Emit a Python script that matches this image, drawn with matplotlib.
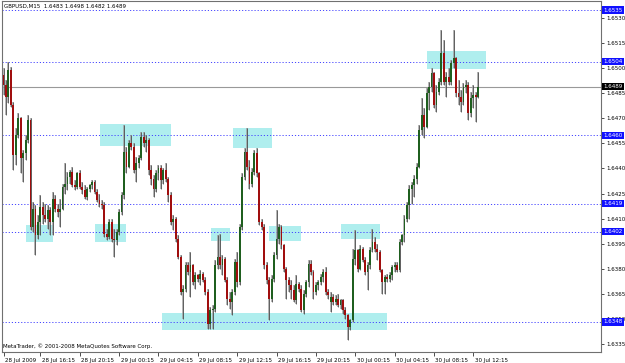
import numpy as np
import matplotlib
matplotlib.use('Agg')
import matplotlib.pyplot as plt
import matplotlib.transforms as mtransforms
from matplotlib.patches import Rectangle

# GBPUSD M15 bars, prices written as pips above 1.6300
opens = [196, 190, 183, 199, 178, 148, 160, 170, 146, 149, 157, 169, 105, 116, 100, 108, 117, 112, 110, 115,
         108, 122, 116, 114, 116, 129, 131, 135, 138, 130, 129, 137, 129, 127, 123, 128, 130, 132, 126, 121,
         119, 118, 101, 99, 108, 98, 97, 102, 114, 124, 150, 141, 155, 153, 139, 143, 146, 159, 155, 157,
         139, 134, 128, 137, 140, 133, 139, 134, 124, 108, 110, 98, 87, 66, 68, 82, 78, 82, 72, 76,
         74, 77, 73, 66, 47, 55, 56, 82, 87, 82, 86, 73, 62, 60, 66, 84, 72, 105, 135, 150,
         141, 131, 138, 149, 137, 108, 105, 82, 73, 62, 74, 88, 98, 105, 94, 80, 73, 70, 67, 61,
         71, 68, 55, 65, 72, 83, 78, 66, 70, 72, 75, 78, 66, 60, 63, 60, 62, 58, 61, 55,
         52, 45, 49, 86, 91, 80, 92, 85, 78, 82, 91, 96, 92, 90, 79, 72, 75, 74, 76, 81,
         82, 79, 96, 100, 110, 118, 128, 130, 134, 141, 163, 172, 165, 185, 189, 197, 178, 186, 192, 209,
         192, 195, 192, 203, 206, 185, 183, 180, 189, 190, 173, 182, 184, 183]
highs = [200, 193, 204, 201, 180, 164, 173, 171, 151, 160, 172, 170, 120, 118, 112, 124, 120, 119, 118, 117,
         126, 124, 119, 122, 131, 143, 138, 139, 141, 133, 138, 139, 132, 130, 129, 131, 133, 133, 128, 125,
         121, 120, 104, 110, 110, 104, 104, 116, 126, 166, 153, 157, 160, 155, 147, 148, 162, 162, 160, 158,
         142, 136, 139, 142, 142, 140, 143, 135, 126, 112, 111, 100, 88, 70, 84, 84, 90, 83, 78, 77,
         79, 78, 75, 68, 57, 58, 85, 100, 101, 88, 87, 75, 66, 68, 86, 90, 107, 137, 152, 164,
         145, 140, 151, 152, 138, 110, 107, 84, 75, 76, 90, 115, 107, 106, 95, 81, 75, 73, 70, 76,
         72, 70, 67, 73, 85, 85, 79, 72, 73, 77, 80, 81, 68, 66, 65, 64, 65, 62, 62, 57,
         53, 50, 92, 103, 92, 94, 93, 87, 84, 93, 104, 99, 95, 91, 80, 76, 77, 78, 82, 84,
         84, 98, 101, 112, 120, 130, 132, 136, 143, 166, 182, 176, 188, 192, 200, 198, 190, 194, 223, 217,
         198, 200, 205, 223, 207, 193, 187, 191, 193, 192, 186, 190, 186, 198]
lows = [184, 172, 179, 177, 139, 142, 158, 137, 132, 145, 155, 103, 102, 88, 98, 100, 107, 108, 104, 100,
        100, 114, 111, 105, 115, 125, 127, 131, 129, 127, 128, 128, 125, 122, 121, 126, 128, 125, 120, 117,
        116, 99, 97, 98, 96, 87, 94, 100, 112, 122, 137, 140, 151, 137, 132, 140, 145, 153, 150, 136,
        130, 123, 126, 133, 128, 131, 132, 120, 106, 103, 96, 86, 64, 50, 66, 76, 63, 70, 68, 72,
        70, 72, 64, 44, 44, 44, 54, 80, 80, 76, 72, 58, 56, 52, 64, 69, 70, 103, 133, 139,
        128, 129, 136, 135, 106, 103, 80, 71, 49, 60, 72, 86, 95, 92, 78, 62, 66, 62, 60, 59,
        66, 54, 53, 63, 69, 76, 62, 64, 67, 70, 72, 64, 62, 54, 58, 58, 57, 56, 53, 50,
        37, 43, 48, 82, 78, 79, 84, 76, 67, 80, 90, 90, 85, 78, 65, 65, 72, 72, 73, 78,
        78, 78, 94, 96, 108, 110, 119, 123, 131, 140, 160, 158, 164, 175, 186, 176, 174, 184, 190, 190,
        183, 190, 190, 200, 183, 178, 174, 178, 185, 169, 171, 176, 168, 182]
closes = [190, 183, 199, 178, 148, 160, 170, 146, 149, 157, 169, 105, 116, 100, 108, 117, 112, 110, 115, 108,
          122, 116, 114, 116, 129, 131, 135, 138, 130, 129, 137, 129, 127, 123, 128, 130, 132, 126, 121, 119,
          118, 101, 99, 108, 98, 97, 102, 114, 124, 150, 141, 155, 153, 139, 143, 146, 159, 155, 157, 139,
          134, 128, 137, 140, 133, 139, 134, 124, 108, 110, 98, 87, 66, 68, 82, 78, 82, 72, 76, 74,
          77, 73, 66, 47, 55, 56, 82, 87, 82, 86, 73, 62, 60, 66, 84, 72, 105, 135, 150, 141,
          131, 138, 149, 137, 108, 105, 82, 73, 62, 74, 88, 98, 105, 94, 80, 73, 70, 67, 61, 71,
          68, 55, 65, 72, 83, 78, 66, 70, 72, 75, 78, 66, 64, 63, 60, 62, 58, 61, 55, 52,
          45, 49, 86, 91, 80, 92, 85, 78, 82, 91, 96, 92, 90, 79, 72, 75, 74, 76, 81, 82,
          79, 96, 100, 110, 118, 128, 130, 134, 141, 163, 172, 165, 185, 189, 197, 178, 186, 192, 209, 192,
          195, 192, 203, 206, 185, 183, 180, 189, 190, 173, 182, 184, 183, 189]

time_labels = ['28 Jul 2009', '28 Jul 16:15', '28 Jul 20:15', '29 Jul 00:15', '29 Jul 04:15',
               '29 Jul 08:15', '29 Jul 12:15', '29 Jul 16:15', '29 Jul 20:15', '30 Jul 00:15',
               '30 Jul 04:15', '30 Jul 08:15', '30 Jul 12:15']
time_label_bars = [0, 15, 31, 47, 63, 79, 95, 111, 127, 143, 159, 175, 191]

price_ticks = [1.6335, 1.6350, 1.6365, 1.6380, 1.6395, 1.6410, 1.6425, 1.6440,
               1.6455, 1.6470, 1.6485, 1.6500, 1.6515, 1.6530]
levels = [1.6535, 1.6504, 1.6460, 1.6419, 1.6402, 1.6348]
bid = 1.6489

# support / resistance rectangles: first bar, last bar, low, high
zones = [(9.1, 20.1, 1.63959, 1.64061),
         (37.2, 49.8, 1.63959, 1.64067),
         (39.2, 68.1, 1.64536, 1.64667),
         (93.3, 109.0, 1.64524, 1.64643),
         (84.2, 92.1, 1.63967, 1.64043),
         (107.9, 120.8, 1.63967, 1.64057),
         (137.2, 153.0, 1.63977, 1.64067),
         (64.3, 156.0, 1.63432, 1.63533),
         (172.0, 196.1, 1.64996, 1.65104)]

title = 'GBPUSD,M15  1.6483 1.6498 1.6482 1.6489'
footer = 'MetaTrader, \u00a9 2001-2008 MetaQuotes Software Corp.'

o = 1.63 + np.array(opens) / 10000
h = 1.63 + np.array(highs) / 10000
l = 1.63 + np.array(lows) / 10000
c = 1.63 + np.array(closes) / 10000
x = np.arange(len(o))

fig = plt.figure(figsize=(6.25, 3.63), dpi=100)
ax = fig.add_axes([2 / 625, 1 - 352 / 363, 599 / 625, 351 / 363])
ax.set_xlim(-0.61, 242.9)
ax.set_ylim(1.63300, 1.65404)

for x0, x1, lo, hi in zones:
    ax.add_patch(Rectangle((x0, lo), x1 - x0, hi - lo, facecolor='#afeeee', edgecolor='none', zorder=1))

for lv in levels:
    ax.axhline(lv, color='#4646ff', lw=0.7, ls=(0, (1.2, 2.0)), zorder=2)
ax.axhline(bid, color='#999999', lw=0.8, zorder=2)

up = c >= o
ax.vlines(x, l, h, color='#a0a0a0', lw=1.1, zorder=3)
ax.vlines(x, l, h, color='#303030', lw=0.45, zorder=4)
ax.bar(x[up], (c - o)[up], bottom=o[up], width=0.75, color='#1f5f1f', edgecolor='none', zorder=5)
ax.bar(x[~up], (o - c)[~up], bottom=c[~up], width=0.75, color='#a00e0e', edgecolor='none', zorder=5)

for s in ax.spines.values():
    s.set_color('#707070')
    s.set_linewidth(0.8)

ax.yaxis.tick_right()
ax.set_yticks(price_ticks)
ax.set_yticklabels(['%.4f' % p for p in price_ticks])
ax.tick_params(axis='y', length=2, width=0.6, pad=1.5, labelsize=4, color='#303030')

ax.set_xticks(time_label_bars)
ax.set_xticklabels(time_labels, ha='left')
ax.tick_params(axis='x', length=3, width=0.6, pad=1, labelsize=4, color='#303030')
shift = mtransforms.ScaledTranslation(1.5 / 100, 0, fig.dpi_scale_trans)
for lab in ax.get_xticklabels():
    lab.set_transform(lab.get_transform() + shift)

yt = mtransforms.blended_transform_factory(ax.transAxes, ax.transData)
for lv in levels:
    ax.text(1.004, lv, '%.4f' % lv, transform=yt, fontsize=4, color='white', va='center', ha='left',
            bbox=dict(boxstyle='square,pad=0.2', fc='#1010ff', ec='none'), zorder=10, clip_on=False)
ax.text(1.004, bid, '%.4f' % bid, transform=yt, fontsize=4, color='white', va='center', ha='left',
        bbox=dict(boxstyle='square,pad=0.2', fc='black', ec='none'), zorder=10, clip_on=False)

ax.text(0.004, 0.985, title, transform=ax.transAxes, fontsize=4, va='center', ha='left')
ax.text(0.002, 0.018, footer, transform=ax.transAxes, fontsize=4, va='center', ha='left')

fig.savefig('out.png', dpi=100)
